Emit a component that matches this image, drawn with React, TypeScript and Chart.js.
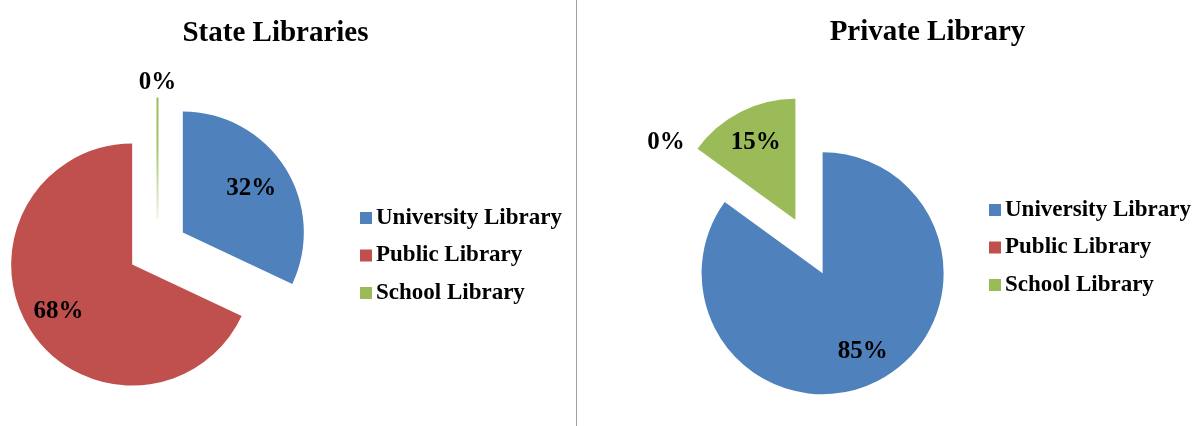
import React, { useEffect, useRef } from 'react';
import { Chart, registerables } from 'chart.js';

Chart.register(...registerables);

// ---- data ----
const categories = ['University Library', 'Public Library', 'School Library'];
const stateValues = [32, 68, 0];
const privateValues = [85, 0, 15];
const stateTitle = 'State Libraries';
const privateTitle = 'Private Library';

// ---- styles ----
const colors = ['#4F81BD', '#C0504D', '#9BBB59'];
const FONT = "'Liberation Serif', 'Times New Roman', serif";
const EXPLODE = 30;
const RADIUS = 121;

type PanelCfg = {
  width: number;
  padding: { left: number; right: number; top: number; bottom: number };
  titleX: number;
  titleY: number;
  legendX: number;
  legendY: number;
  legendGap: number;
  labelRadius: number[];
  zeroLine: boolean;
};

const leftCfg: PanelCfg = {
  width: 576,
  padding: { left: 0, right: 261, top: 71, bottom: 0 },
  titleX: 275.5,
  titleY: 41,
  legendX: 360,
  legendY: 218,
  legendGap: 37.5,
  labelRadius: [0.67, 0.72, 0.72],
  zeroLine: true,
};

const rightCfg: PanelCfg = {
  width: 622,
  padding: { left: 0, right: 158, top: 67, bottom: 0 },
  titleX: 350.5,
  titleY: 40,
  legendX: 412,
  legendY: 210,
  legendGap: 37.5,
  labelRadius: [0.73, 0.72, 0.72],
  zeroLine: false,
};

const explodePlugin = {
  id: 'explode',
  afterUpdate(chart: any) {
    const meta = chart.getDatasetMeta(0);
    meta.data.forEach((arc: any) => {
      const mid = (arc.startAngle + arc.endAngle) / 2;
      arc.x += Math.cos(mid) * EXPLODE;
      arc.y += Math.sin(mid) * EXPLODE;
    });
  },
};

function makeDecorPlugin(title: string, cfg: PanelCfg) {
  return {
    id: 'decor',
    afterDatasetsDraw(chart: any) {
      const ctx: CanvasRenderingContext2D = chart.ctx;
      const meta = chart.getDatasetMeta(0);
      const values: number[] = chart.data.datasets[0].data;
      ctx.save();

      // zero-value slice lines
      if (cfg.zeroLine) {
        meta.data.forEach((arc: any, i: number) => {
          if (values[i] !== 0) return;
          const a = arc.startAngle;
          const x2 = arc.x + Math.cos(a) * arc.outerRadius;
          const y2 = arc.y + Math.sin(a) * arc.outerRadius;
          const g = ctx.createLinearGradient(arc.x, arc.y, x2, y2);
          g.addColorStop(0, 'rgba(155,187,89,0.15)');
          g.addColorStop(0.6, 'rgba(155,187,89,0.9)');
          g.addColorStop(1, 'rgba(155,187,89,1)');
          ctx.strokeStyle = g;
          ctx.lineWidth = 2;
          ctx.beginPath();
          ctx.moveTo(arc.x, arc.y);
          ctx.lineTo(x2, y2);
          ctx.stroke();
        });
      }

      // percentage labels
      ctx.font = `bold 25px ${FONT}`;
      ctx.fillStyle = '#000';
      ctx.textAlign = 'center';
      ctx.textBaseline = 'middle';
      meta.data.forEach((arc: any, i: number) => {
        const mid = (arc.startAngle + arc.endAngle) / 2;
        const txt = `${values[i]}%`;
        const dx = Math.cos(mid);
        const dy = Math.sin(mid);
        let dist: number;
        if (values[i] === 0) {
          const w = ctx.measureText(txt).width;
          const h = 22;
          dist = arc.outerRadius + 4 + Math.abs(dx) * w / 2 + Math.abs(dy) * h / 2;
        } else {
          dist = arc.outerRadius * cfg.labelRadius[i];
        }
        ctx.fillText(txt, arc.x + dx * dist, arc.y + dy * dist);
      });

      // title
      ctx.font = `bold 29px ${FONT}`;
      ctx.textBaseline = 'alphabetic';
      ctx.textAlign = 'center';
      ctx.fillText(title, cfg.titleX, cfg.titleY);

      // legend
      ctx.font = `bold 23px ${FONT}`;
      ctx.textAlign = 'left';
      ctx.textBaseline = 'middle';
      const bg: string[] = chart.data.datasets[0].backgroundColor;
      chart.data.labels.forEach((lab: string, i: number) => {
        const cy = cfg.legendY + i * cfg.legendGap;
        ctx.fillStyle = bg[i];
        ctx.fillRect(cfg.legendX, cy - 6, 12, 12);
        ctx.fillStyle = '#000';
        ctx.fillText(lab, cfg.legendX + 16, cy);
      });

      ctx.restore();
    },
  };
}

function PiePanel({ values, title, cfg }: { values: number[]; title: string; cfg: PanelCfg }) {
  const ref = useRef<HTMLCanvasElement | null>(null);
  useEffect(() => {
    if (!ref.current) return;
    const chart = new Chart(ref.current, {
      type: 'pie',
      data: {
        labels: categories,
        datasets: [
          {
            data: values,
            backgroundColor: colors,
            borderWidth: 0,
          },
        ],
      },
      options: {
        responsive: false,
        animation: false,
        radius: RADIUS,
        layout: { padding: cfg.padding },
        plugins: {
          legend: { display: false },
          title: { display: false },
          tooltip: { enabled: false },
        },
      } as any,
      plugins: [explodePlugin, makeDecorPlugin(title, cfg)],
    });
    return () => chart.destroy();
  }, [values, title, cfg]);
  return <canvas ref={ref} width={cfg.width} height={426} style={{ display: 'block' }} />;
}

export default function App() {
  return (
    <div
      style={{
        position: 'absolute',
        left: 0,
        top: 0,
        width: 1199,
        height: 426,
        background: '#fff',
        overflow: 'hidden',
      }}
    >
      <div style={{ position: 'absolute', left: 0, top: 0 }}>
        <PiePanel values={stateValues} title={stateTitle} cfg={leftCfg} />
      </div>
      <div
        style={{
          position: 'absolute',
          left: 576,
          top: 0,
          width: 1,
          height: 426,
          background: '#a0a0a0',
        }}
      />
      <div style={{ position: 'absolute', left: 577, top: 0 }}>
        <PiePanel values={privateValues} title={privateTitle} cfg={rightCfg} />
      </div>
    </div>
  );
}
